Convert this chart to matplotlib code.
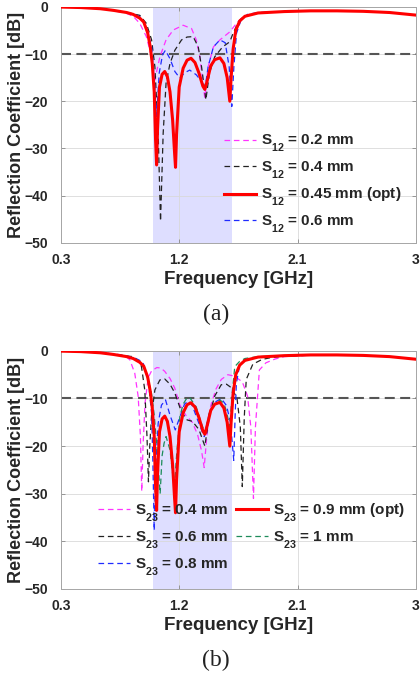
import matplotlib
matplotlib.use("Agg")
import matplotlib.pyplot as plt
from matplotlib import _mathtext

plt.rcParams['font.family'] = ['Liberation Sans', 'DejaVu Sans']
plt.rcParams['mathtext.fontset'] = 'custom'
plt.rcParams['mathtext.rm'] = 'Liberation Sans:bold'
plt.rcParams['mathtext.it'] = 'Liberation Sans:bold'
plt.rcParams['mathtext.bf'] = 'Liberation Sans:bold'
# lower subscripts a little more (MATLAB-like look)
_mathtext.FontConstantsBase.sub1 = 0.9

# ---------------- data ----------------
x_ticks = [0.3, 1.2, 2.1, 3.0]
x_tick_labels = ['0.3', '1.2', '2.1', '3']
y_ticks = [0, -10, -20, -30, -40, -50]
band = [1.0, 1.6]
threshold = -10

# optimum design (same curve in both panels)
opt_f = [0.3, 0.45, 0.6, 0.7, 0.8, 0.85, 0.9, 0.93, 0.96, 0.98, 0.995, 1.01, 1.02, 1.028, 1.035,
         1.05, 1.07, 1.09, 1.11, 1.13, 1.15, 1.165, 1.172, 1.18, 1.20, 1.23, 1.26, 1.29, 1.32,
         1.35, 1.38, 1.395, 1.41, 1.44, 1.47, 1.51, 1.54, 1.565, 1.585, 1.595, 1.61, 1.63, 1.66,
         1.70, 1.80, 2.0, 2.2, 2.4, 2.6, 2.8, 3.0]
opt_db = [-0.05, -0.15, -0.4, -0.75, -1.2, -1.6, -2.4, -3.2, -5.5, -8.5, -12, -18, -28, -33.5, -26,
          -17, -14.3, -13.7, -14.8, -18, -24, -31, -34, -27, -17, -13, -11.3, -10.9, -11.8,
          -14, -16.8, -17.5, -16, -12.5, -11.2, -10.8, -12, -15, -20, -15, -9, -5, -3.0,
          -2.0, -1.3, -1.0, -0.85, -0.85, -0.95, -1.2, -1.75]

# panel (a): S12 sweep
s12_02_f = [0.3, 0.45, 0.6, 0.7, 0.8, 0.85, 0.9, 0.95, 0.99, 1.015, 1.03, 1.053, 1.10, 1.155, 1.23,
            1.294, 1.33, 1.357, 1.395, 1.42, 1.46, 1.51, 1.585, 1.636, 1.687, 1.75, 1.85, 2.0,
            2.2, 2.4, 2.6, 2.8, 3.0]
s12_02_db = [-0.05, -0.15, -0.45, -0.8, -1.4, -2.0, -3.5, -6.3, -10.6, -15.5, -13.5, -10.6, -7.0,
             -4.9, -3.9, -4.6, -7.0, -10.6, -19.4, -12.7, -8.5, -7.0, -5.3, -3.5, -2.1, -1.5,
             -1.2, -1.0, -0.85, -0.85, -0.95, -1.2, -1.75]

s12_04_f = [0.3, 0.45, 0.6, 0.7, 0.8, 0.85, 0.9, 0.95, 0.99, 1.015, 1.04, 1.058, 1.078, 1.10, 1.13,
            1.167, 1.218, 1.26, 1.306, 1.345, 1.37, 1.403, 1.43, 1.47, 1.53, 1.585, 1.61, 1.65,
            1.687, 1.75, 1.85, 2.0, 2.2, 2.4, 2.6, 2.8, 3.0]
s12_04_db = [-0.05, -0.15, -0.4, -0.75, -1.2, -1.5, -1.8, -3.5, -7.0, -12.7, -26.8, -45.4, -26.8,
             -16.2, -12.0, -9.2, -7.0, -6.4, -6.3, -8.5, -12.7, -19.7, -14.0, -10.6, -8.5, -7.4,
             -5.6, -3.2, -2.1, -1.5, -1.2, -1.0, -0.85, -0.85, -0.95, -1.2, -1.75]

s12_06_f = [0.3, 0.45, 0.6, 0.7, 0.8, 0.85, 0.9, 0.95, 0.99, 1.007, 1.028, 1.048, 1.073, 1.095,
            1.13, 1.167, 1.205, 1.24, 1.28, 1.33, 1.37, 1.395, 1.42, 1.46, 1.51, 1.55, 1.58, 1.60,
            1.616, 1.636, 1.67, 1.72, 1.8, 2.0, 2.2, 2.4, 2.6, 2.8, 3.0]
s12_06_db = [-0.05, -0.15, -0.4, -0.75, -1.2, -1.5, -2.1, -4.2, -8.5, -14.0, -23.2, -14.0, -10.2,
             -9.2, -11.0, -13.7, -15.1, -14.0, -13.4, -14.4, -15.8, -17.6, -12.7, -8.5, -7.0,
             -7.6, -12.7, -21.1, -12.7, -5.6, -2.8, -1.6, -1.2, -1.0, -0.85, -0.85, -0.95, -1.2,
             -1.75]

# panel (b): S23 sweep
s23_04_f = [0.3, 0.45, 0.6, 0.7, 0.75, 0.8, 0.825, 0.862, 0.888, 0.905, 0.915, 0.925, 0.94, 0.964,
            0.99, 1.03, 1.06, 1.09, 1.13, 1.166, 1.204, 1.25, 1.30, 1.34, 1.37, 1.39, 1.41, 1.44,
            1.48, 1.52, 1.57, 1.62, 1.68, 1.72, 1.745, 1.765, 1.78, 1.81, 1.86, 1.93, 2.0, 2.2,
            2.4, 2.6, 2.8, 3.0]
s23_04_db = [-0.05, -0.15, -0.4, -0.6, -0.8, -1.3, -1.9, -4.7, -9.6, -18, -29.5, -20, -11, -5.6,
             -4.2, -3.5, -3.6, -4.3, -5.8, -7.8, -11.3, -13.5, -15, -17.6, -21, -24.5, -18, -11.5,
             -8, -6, -5, -5.3, -6.5, -9.5, -16, -31, -16, -4, -2.5, -1.7, -1.2, -0.9, -0.85,
             -0.95, -1.2, -1.75]

s23_06_f = [0.3, 0.45, 0.6, 0.7, 0.8, 0.85, 0.9, 0.913, 0.938, 0.955, 0.966, 0.976, 0.99, 1.015,
            1.053, 1.09, 1.13, 1.166, 1.217, 1.26, 1.30, 1.35, 1.395, 1.43, 1.47, 1.52, 1.56,
            1.60, 1.64, 1.665, 1.68, 1.695, 1.71, 1.76, 1.83, 1.9, 2.0, 2.2, 2.4, 2.6, 2.8, 3.0]
s23_06_db = [-0.05, -0.15, -0.4, -0.65, -1.1, -1.2, -2.5, -3.3, -8.2, -18, -27.5, -20, -13.4,
             -8.2, -6.1, -5.9, -7.0, -8.8, -12.8, -14.5, -14.8, -16.5, -20, -13.5, -9.5, -7.1,
             -7.0, -7.8, -10, -16, -28.5, -14, -6, -2.8, -1.8, -1.4, -1.1, -0.9, -0.85, -0.95,
             -1.2, -1.75]

s23_08_f = [0.3, 0.45, 0.6, 0.7, 0.8, 0.85, 0.9, 0.926, 0.964, 0.99, 1.0, 1.01, 1.023, 1.04, 1.065,
            1.096, 1.13, 1.17, 1.21, 1.24, 1.27, 1.30, 1.34, 1.39, 1.43, 1.47, 1.52, 1.56, 1.59,
            1.615, 1.625, 1.635, 1.66, 1.70, 1.8, 2.0, 2.2, 2.4, 2.6, 2.8, 3.0]
s23_08_db = [-0.05, -0.15, -0.4, -0.7, -1.1, -1.3, -2.0, -2.6, -6.1, -13.1, -23.6, -37.7, -23.6,
             -15.2, -11.4, -10.3, -13.5, -16.6, -13.5, -11.2, -10.5, -11.5, -14.5, -18.0, -13.0,
             -10.8, -10.0, -11.5, -15, -23, -14, -6.8, -3.0, -2.0, -1.3, -1.0, -0.85, -0.85,
             -0.95, -1.2, -1.75]

s23_1_f = [0.3, 0.45, 0.6, 0.7, 0.8, 0.85, 0.9, 0.95, 0.99, 1.01, 1.03, 1.055, 1.07, 1.085, 1.10,
           1.13, 1.163, 1.18, 1.205, 1.23, 1.256, 1.28, 1.33, 1.36, 1.395, 1.43, 1.46, 1.51, 1.54,
           1.56, 1.585, 1.605, 1.623, 1.66, 1.70, 1.8, 2.0, 2.2, 2.4, 2.6, 2.8, 3.0]
s23_1_db = [-0.05, -0.15, -0.4, -0.7, -1.1, -1.4, -2.2, -4.5, -9.0, -13.5, -20.0, -30.0, -22.0,
            -19.4, -18.0, -20.8, -29.0, -22.0, -13.8, -11.2, -10.0, -9.8, -11.8, -14.5, -17.3,
            -13.0, -11.4, -10.3, -11.0, -12.8, -16.0, -8.2, -3.3, -2.2, -1.6, -1.2, -1.0, -0.85,
            -0.85, -0.95, -1.2, -1.75]

labels_a = ['S$_{12}$ = 0.2 mm', 'S$_{12}$ = 0.4 mm', 'S$_{12}$ = 0.45 mm (opt)', 'S$_{12}$ = 0.6 mm']
labels_b = ['S$_{23}$ = 0.4 mm', 'S$_{23}$ = 0.6 mm', 'S$_{23}$ = 0.8 mm',
            'S$_{23}$ = 0.9 mm (opt)', 'S$_{23}$ = 1 mm']

# ---------------- style ----------------
PINK = '#ff33ff'
BLACK = '#222222'
RED = '#ff0000'
BLUE = '#1f2bff'
GREEN = '#1e8c5a'
DASH = (4.5, 3)
TXT = '#262626'

fig = plt.figure(figsize=(4.2, 6.84), dpi=100)
ax_a = fig.add_axes([0.145, 0.645, 0.845, 0.345])
ax_b = fig.add_axes([0.145, 0.139, 0.845, 0.348])


def style(ax):
    ax.set_xlim(0.3, 3.0)
    ax.set_ylim(-50, 0)
    ax.axvspan(band[0], band[1], color=(0.0, 0.0, 1.0), alpha=0.13, lw=0, zorder=0.2)
    ax.axhline(threshold, color='#555555', lw=1.5, dashes=(4.8, 2.6), zorder=1.5)
    ax.set_xticks(x_ticks)
    ax.set_xticklabels(x_tick_labels)
    ax.set_yticks(y_ticks)
    ax.grid(True, color='#d9d9d9', lw=0.6, zorder=0.1)
    ax.set_axisbelow(True)
    for s in ax.spines.values():
        s.set_color('#a6a6a6')
        s.set_linewidth(0.7)
    ax.tick_params(axis='both', direction='in', length=3, width=0.6, color='#8a8a8a',
                   top=True, right=True, labelsize=10, labelcolor=TXT)
    ax.tick_params(axis='y', pad=9)
    ax.tick_params(axis='x', pad=7)
    for t in ax.get_xticklabels() + ax.get_yticklabels():
        t.set_fontweight('bold')
    ax.set_xlabel('Frequency [GHz]', fontsize=13.5, fontweight='bold', color=TXT, labelpad=3)
    ax.set_ylabel('Reflection Coefficient [dB]', fontsize=13, fontweight='bold', color=TXT)
    ax.yaxis.set_label_coords(-0.1, 0.5)


style(ax_a)
style(ax_b)

# panel (a)
ax_a.plot(s12_02_f, s12_02_db, color=PINK, lw=0.9, dashes=DASH, label=labels_a[0], zorder=2)
ax_a.plot(s12_04_f, s12_04_db, color=BLACK, lw=0.9, dashes=DASH, label=labels_a[1], zorder=2)
ax_a.plot(opt_f, opt_db, color=RED, lw=2.2, label=labels_a[2], zorder=3)
ax_a.plot(s12_06_f, s12_06_db, color=BLUE, lw=0.9, dashes=DASH, label=labels_a[3], zorder=2.5)

ax_a.legend(loc='upper left', bbox_to_anchor=(0.46, 0.465), frameon=False,
            handlelength=2.1, handletextpad=0.3, labelspacing=0.35, borderpad=0,
            borderaxespad=0, labelcolor=TXT, prop={'weight': 'bold', 'size': 11})

# panel (b)
ax_b.plot(s23_04_f, s23_04_db, color=PINK, lw=0.9, dashes=DASH, label=labels_b[0], zorder=2)
ax_b.plot(s23_06_f, s23_06_db, color=BLACK, lw=0.9, dashes=DASH, label=labels_b[1], zorder=2)
ax_b.plot(s23_08_f, s23_08_db, color=BLUE, lw=0.9, dashes=DASH, label=labels_b[2], zorder=2)
ax_b.plot(opt_f, opt_db, color=RED, lw=2.2, label=labels_b[3], zorder=3)
ax_b.plot(s23_1_f, s23_1_db, color=GREEN, lw=0.9, dashes=DASH, label=labels_b[4], zorder=2.5)

ax_b.legend(loc='upper left', bbox_to_anchor=(0.105, 0.368), frameon=False, ncol=2,
            handlelength=2.1, handletextpad=0.3, labelspacing=0.39, columnspacing=0.5,
            borderpad=0, borderaxespad=0, labelcolor=TXT, prop={'weight': 'bold', 'size': 11})

fig.text(0.515, 1 - 314 / 684, '(a)', ha='center', va='center', fontsize=17,
         family=['Liberation Serif', 'DejaVu Serif'], color='#222222')
fig.text(0.515, 1 - 660 / 684, '(b)', ha='center', va='center', fontsize=17,
         family=['Liberation Serif', 'DejaVu Serif'], color='#222222')

fig.savefig('out.png', dpi=100)
